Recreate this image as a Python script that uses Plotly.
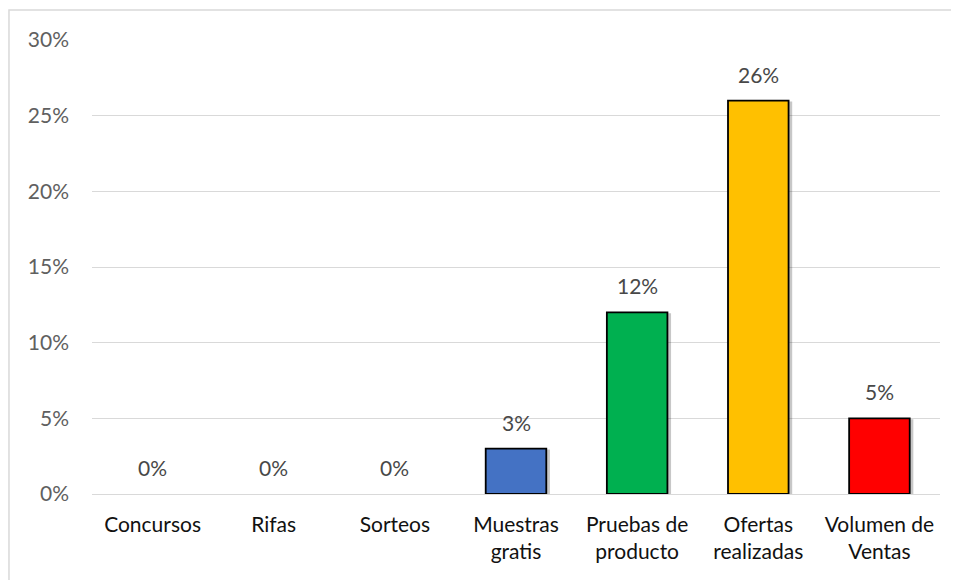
import plotly.graph_objects as go

categories = ["Concursos", "Rifas", "Sorteos", "Muestras<br>gratis", "Pruebas de<br>producto",
              "Ofertas<br>realizadas", "Volumen de<br>Ventas"]
values = [0.0, 0.0, 0.0, 0.03, 0.12, 0.26, 0.05]
value_labels = ["0%", "0%", "0%", "3%", "12%", "26%", "5%"]
bar_colors = ["#4472C4", "#4472C4", "#4472C4", "#4472C4", "#00B050", "#FFC000", "#FF0000"]
y_tickvals = [0, 0.05, 0.10, 0.15, 0.20, 0.25, 0.30]
y_ticktext = ["0%", "5%", "10%", "15%", "20%", "25%", "30%"]

FONT = "Lato, 'Open Sans', sans-serif"
FS = 21

outline_widths = [1.8 if v > 0 else 0 for v in values]

fig = go.Figure()

# soft shadow
fig.add_trace(go.Bar(
    x=categories, y=values, base=[-0.0006] * len(values),
    width=0.5, offset=-0.25 + 0.03,
    marker=dict(color="rgba(0,0,0,0.22)", line=dict(width=0)),
    hoverinfo="skip", showlegend=False,
))
fig.add_trace(go.Bar(
    x=categories, y=values, width=0.5, offset=-0.25,
    marker=dict(color=bar_colors, line=dict(color="#000000", width=outline_widths)),
    showlegend=False,
))

for c, v, t in zip(categories, values, value_labels):
    fig.add_annotation(
        x=c, y=v, text=t, showarrow=False, yanchor="bottom",
        yshift=12,
        font=dict(family=FONT, size=FS, color="#484848"),
    )

fig.add_shape(type="rect", xref="paper", yref="paper",
              x0=-0.0979, y0=-0.4, x1=1.1, y1=1.066,
              line=dict(color="#D9D9D9", width=1.5), fillcolor="rgba(0,0,0,0)", layer="below")

fig.update_layout(
    width=951, height=572,
    margin=dict(l=84, r=19, t=32, b=86),
    paper_bgcolor="white", plot_bgcolor="white",
    barmode="overlay",
    font=dict(family=FONT, size=FS),
    xaxis=dict(
        showgrid=False, showline=False, zeroline=False, ticks="",
        tickfont=dict(family=FONT, size=FS, color="#111111"),
        ticklabelstandoff=16,
    ),
    yaxis=dict(
        range=[0, 0.30], tickvals=y_tickvals, ticktext=y_ticktext,
        showgrid=True, gridcolor="#D9D9D9", gridwidth=1.3,
        zeroline=True, zerolinecolor="#D9D9D9", zerolinewidth=1.3,
        showline=False, ticks="",
        tickfont=dict(family=FONT, size=FS, color="#606060"),
        ticklabelstandoff=22,
    ),
)

fig.write_html("out.html")
